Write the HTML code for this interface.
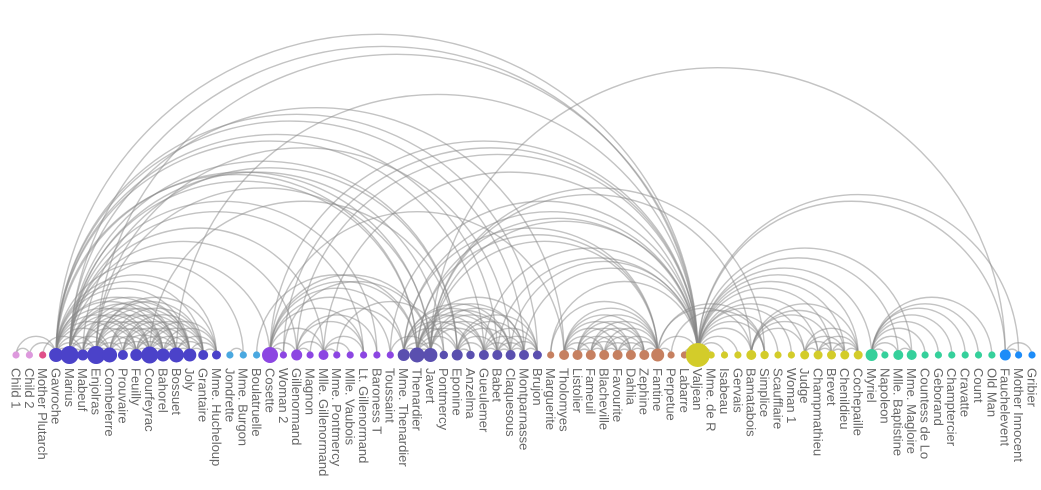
<!DOCTYPE html>
<html><head><meta charset="utf-8"><style>
html,body{margin:0;padding:0;background:#fff;width:1041px;height:490px;overflow:hidden}
svg{display:block}
text{font-family:"Liberation Sans",sans-serif;font-size:13px;fill:#666}
</style></head><body>
<svg id="s" width="1041" height="490" xmlns="http://www.w3.org/2000/svg"></svg>
<script>
var orig=["Myriel","Napoleon","Mlle. Baptistine","Mme. Magloire","Countess de Lo","Geborand","Champtercier","Cravatte","Count","Old Man","Labarre","Valjean","Marguerite","Mme. de R","Isabeau","Gervais","Tholomyes","Listolier","Fameuil","Blacheville","Favourite","Dahlia","Zephine","Fantine","Mme. Thenardier","Thenardier","Cosette","Javert","Fauchelevent","Bamatabois","Perpetue","Simplice","Scaufflaire","Woman 1","Judge","Champmathieu","Brevet","Chenildieu","Cochepaille","Pontmercy","Boulatruelle","Eponine","Anzelma","Woman 2","Mother Innocent","Gribier","Jondrette","Mme. Burgon","Gavroche","Gillenormand","Magnon","Mlle. Gillenormand","Mme. Pontmercy","Mlle. Vaubois","Lt. Gillenormand","Marius","Baroness T","Mabeuf","Enjolras","Combeferre","Prouvaire","Feuilly","Courfeyrac","Bahorel","Bossuet","Joly","Grantaire","Mother Plutarch","Gueulemer","Babet","Claquesous","Montparnasse","Toussaint","Child 1","Child 2","Brujon","Mme. Hucheloup"];
var order=["Child 1","Child 2","Mother Plutarch","Gavroche","Marius","Mabeuf","Enjolras","Combeferre","Prouvaire","Feuilly","Courfeyrac","Bahorel","Bossuet","Joly","Grantaire","Mme. Hucheloup","Jondrette","Mme. Burgon","Boulatruelle","Cosette","Woman 2","Gillenormand","Magnon","Mlle. Gillenormand","Mme. Pontmercy","Mlle. Vaubois","Lt. Gillenormand","Baroness T","Toussaint","Mme. Thenardier","Thenardier","Javert","Pontmercy","Eponine","Anzelma","Gueulemer","Babet","Claquesous","Montparnasse","Brujon","Marguerite","Tholomyes","Listolier","Fameuil","Blacheville","Favourite","Dahlia","Zephine","Fantine","Perpetue","Labarre","Valjean","Mme. de R","Isabeau","Gervais","Bamatabois","Simplice","Scaufflaire","Woman 1","Judge","Champmathieu","Brevet","Chenildieu","Cochepaille","Myriel","Napoleon","Mlle. Baptistine","Mme. Magloire","Countess de Lo","Geborand","Champtercier","Cravatte","Count","Old Man","Fauchelevent","Mother Innocent","Gribier"];
var L="1-0,2-0,3-0,3-2,4-0,5-0,6-0,7-0,8-0,9-0,11-10,11-3,11-2,11-0,12-11,13-11,14-11,15-11,17-16,18-16,18-17,19-16,19-17,19-18,20-16,20-17,20-18,20-19,21-16,21-17,21-18,21-19,21-20,22-16,22-17,22-18,22-19,22-20,22-21,23-16,23-17,23-18,23-19,23-20,23-21,23-22,23-12,23-11,24-23,24-11,25-24,25-23,25-11,26-24,26-11,26-16,26-25,27-11,27-23,27-25,27-24,27-26,28-11,28-27,29-23,29-27,29-11,30-23,31-30,31-11,31-23,31-27,32-11,33-11,34-11,34-29,35-11,35-34,35-29,36-34,36-35,36-11,36-29,37-34,37-35,37-36,37-11,37-29,38-34,38-35,38-36,38-37,38-11,38-29,39-25,40-25,41-24,41-25,42-41,42-25,42-24,43-11,43-26,43-27,44-28,44-11,45-28,47-46,48-47,48-25,48-27,48-11,49-26,49-11,50-49,50-24,51-49,51-26,51-11,52-51,52-39,53-51,54-51,54-49,54-26,55-51,55-49,55-39,55-54,55-26,55-11,55-16,55-25,55-41,55-48,56-49,56-55,57-55,57-41,57-48,58-55,58-48,58-27,58-57,58-11,59-58,59-55,59-48,59-57,60-48,60-58,60-59,61-48,61-58,61-60,61-59,61-57,61-55,62-55,62-58,62-59,62-48,62-57,62-41,62-61,62-60,63-59,63-48,63-62,63-57,63-58,63-61,63-60,63-55,64-55,64-62,64-48,64-63,64-58,64-61,64-60,64-59,64-57,64-11,65-63,65-64,65-48,65-62,65-58,65-61,65-60,65-59,65-57,65-55,66-64,66-58,66-59,66-62,66-65,66-48,66-63,66-61,66-60,67-57,68-25,68-11,68-24,68-27,68-48,68-41,69-25,69-68,69-11,69-24,69-27,69-48,69-41,70-25,70-69,70-68,70-11,70-24,70-27,70-41,70-58,71-27,71-69,71-68,71-70,71-11,71-48,71-41,71-25,72-26,72-27,72-11,73-48,74-48,74-73,75-69,75-68,75-25,75-48,75-41,75-70,75-71,76-64,76-65,76-66,76-63,76-62,76-48,76-58";
var R={"Valjean":12,"Marius":9,"Enjolras":9,"Courfeyrac":8.5,"Gavroche":7,"Combeferre":7.5,"Bossuet":7.5,"Joly":6.5,"Bahorel":6.5,"Feuilly":6,"Mabeuf":5.5,"Grantaire":5,"Prouvaire":5,"Mme. Hucheloup":4.5,"Cosette":8,"Thenardier":7.5,"Javert":7,"Mme. Thenardier":6,"Eponine":5.5,"Fantine":6.5,"Tholomyes":5,"Listolier":5,"Fameuil":5,"Blacheville":5,"Favourite":5,"Dahlia":5,"Zephine":5,"Bamatabois":5,"Myriel":6,"Mlle. Baptistine":5,"Mme. Magloire":5,"Fauchelevent":5.5,"Gillenormand":5.5,"Mlle. Gillenormand":5,"Babet":5,"Gueulemer":5,"Claquesous":5,"Montparnasse":5,"Brujon":4.5,"Judge":4.5,"Champmathieu":4.5,"Brevet":4.5,"Chenildieu":4.5,"Cochepaille":4.5,"Simplice":4.2,"Anzelma":4.2,"Pontmercy":4.2};
function col(i){if(i<2)return"#dd99dd";if(i==2)return"#e0508a";if(i<16)return"#4b42c9";if(i<19)return"#4aa8e0";if(i<29)return"#8c46e2";if(i<40)return"#5a4faf";if(i<51)return"#c68060";if(i<64)return"#d3cc2a";if(i<74)return"#35d09b";return"#1d8cf8";}
var pos={};order.forEach(function(n,i){pos[n]=16+i*(1016/76);});
var Y=355,s="";
L.split(",").forEach(function(p){var a=p.split("-");var x1=pos[orig[+a[0]]],x2=pos[orig[+a[1]]];if(x1>x2){var t=x1;x1=x2;x2=t;}var r=(x2-x1)/2;
s+='<path d="M'+x1.toFixed(1)+','+Y+'A'+r.toFixed(1)+','+r.toFixed(1)+' 0 0,1 '+x2.toFixed(1)+','+Y+'" fill="none" stroke="#888" stroke-opacity="0.5" stroke-width="1.4"/>';});
order.forEach(function(n,i){var x=pos[n];s+='<circle cx="'+x.toFixed(1)+'" cy="'+Y+'" r="'+(R[n]||3.6)+'" fill="'+col(i)+'"/>';
s+='<text transform="translate('+x.toFixed(1)+',368) rotate(90)" dy="0.35em">'+n+'</text>';});
document.getElementById("s").innerHTML=s;
</script>
</body></html>
